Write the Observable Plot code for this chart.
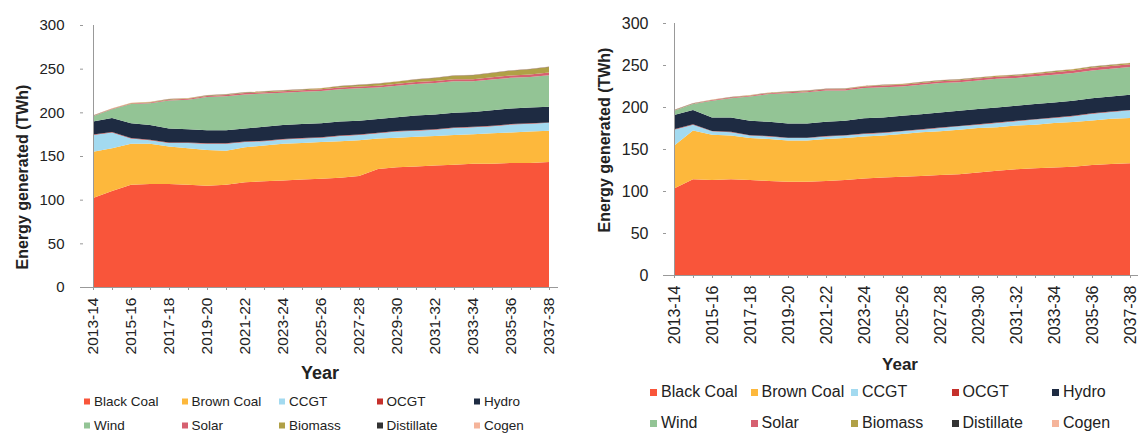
<!DOCTYPE html>
<html><head><meta charset="utf-8">
<script src="https://cdn.jsdelivr.net/npm/d3@7"></script>
<script src="https://cdn.jsdelivr.net/npm/@observablehq/plot@0.6"></script>
<style>
body{margin:0;background:#fff;font-family:"Liberation Sans",Arial,sans-serif;}
#wrap{position:relative;width:1143px;height:434px;overflow:hidden;background:#fff;}
.pl{position:absolute;top:0;}
.ytitle{position:absolute;font-weight:bold;color:#222;white-space:nowrap;transform:translate(-50%,-50%) rotate(-90deg);}
.xtitle{position:absolute;font-weight:bold;color:#222;white-space:nowrap;transform:translate(-50%,-50%);}
.leg{position:absolute;display:flex;align-items:center;white-space:nowrap;color:#222;transform:translateY(-50%);}
.sw{display:inline-block;margin-right:4px;}
</style></head>
<body>
<div id="wrap"></div>
<script>
const years = ["2013-14","2014-15","2015-16","2016-17","2017-18","2018-19","2019-20","2020-21","2021-22","2022-23","2023-24","2024-25","2025-26","2026-27","2027-28","2028-29","2029-30","2030-31","2031-32","2032-33","2033-34","2034-35","2035-36","2036-37","2037-38"];
const seriesNames = ["Black Coal","Brown Coal","CCGT","OCGT","Hydro","Wind","Solar","Biomass","Distillate","Cogen"];
const seriesColors = ["#f9553a","#fdb83c","#a3daf0","#c5302b","#1e2b42","#93c495","#d66070","#b0a046","#333333","#f5b49a"];
const yTicks = [0,50,100,150,200,250,300];
const yTitle = "Energy generated (TWh)";
const xTitle = "Year";

// Left chart (TWh)
const blackCoalL = [102,110,117,118,118,117,116,117,120,121,122,123,124,125,127,135,137,138,139,140,141,141,142,142,143];
const brownCoalL = [53,49,47,46,43,42,41,39,40,41,42,42,42,42,41,35,34,34,34,34,34,35,35,36,36];
const ccgtL = [19,18,6,4,4,6,7,8,6,5,5,5,5,6,6,6,7,7,7,8,8,8,9,9,9];
const ocgtL = [0.5,0.5,0.5,0.5,0.5,0.5,0.5,0.5,0.5,0.5,0.5,0.5,0.5,0.5,0.5,0.5,0.5,0.5,0.5,0.5,0.5,0.5,0.5,0.5,0.5];
const hydroL = [15,16,17,17,16,15,15,15,15,16,16,16,16,16,16,16,16,17,17,17,17,18,18,18,18];
const windL = [6,10,22,25,32,34,38,39,39,38,37,37,37,37,37,36,36,36,36,36,35,35,35,35,36];
const solarL = [0.3,0.5,0.7,0.8,1,1,1.2,1.3,1.5,1.5,1.6,1.7,1.8,1.9,2,2,2.1,2.2,2.3,2.4,2.5,2.6,2.7,2.8,3];
const biomassL = [0.3,0.3,0.4,0.4,0.5,0.5,0.6,0.6,0.7,0.8,0.9,1,1.2,1.5,1.8,2.2,2.6,3,3.5,4,4.5,5,5.5,6,6.5];
const distillateL = [0.2,0.2,0.2,0.2,0.2,0.2,0.2,0.2,0.2,0.2,0.2,0.2,0.2,0.2,0.2,0.2,0.2,0.2,0.2,0.2,0.2,0.2,0.2,0.2,0.2];
const cogenL = [0.3,0.3,0.3,0.3,0.3,0.3,0.3,0.3,0.3,0.3,0.3,0.3,0.3,0.3,0.3,0.3,0.3,0.3,0.3,0.3,0.3,0.3,0.3,0.3,0.3];

// Right chart (TWh)
const blackCoalR = [103,114,113,114,113,112,111,111,112,113,115,116,117,118,119,120,122,124,126,127,128,129,131,132,133];
const brownCoalR = [51,58,54,52,50,50,49,49,50,50,50,50,51,52,52,53,53,52,52,52,53,53,53,54,54];
const ccgtR = [19,7,4,4,3,3,3,3,3,3,3,3,3,3,4,4,4,5,5,6,6,7,8,8,9];
const ocgtR = [0.5,0.5,0.5,0.5,0.5,0.5,0.5,0.5,0.5,0.5,0.5,0.5,0.5,0.5,0.5,0.5,0.5,0.5,0.5,0.5,0.5,0.5,0.5,0.5,0.5];
const hydroR = [17,17,16,17,17,17,17,17,17,17,18,18,18,18,18,18,18,18,18,18,18,18,18,18,18];
const windR = [5,7,20,23,29,33,36,37,37,36,36,36,35,35,35,34,34,34,33,33,33,33,33,33,33];
const solarR = [0.3,0.5,0.7,0.8,1,1,1.2,1.3,1.5,1.6,1.8,2,2.1,2.2,2.3,2.4,2.5,2.6,2.7,2.8,2.9,3,3.1,3.2,3.3];
const biomassR = [0.3,0.3,0.3,0.4,0.4,0.4,0.5,0.5,0.5,0.6,0.6,0.7,0.7,0.8,0.8,0.9,0.9,1,1,1.1,1.2,1.3,1.3,1.4,1.5];
const distillateR = [0.2,0.2,0.2,0.2,0.2,0.2,0.2,0.2,0.2,0.2,0.2,0.2,0.2,0.2,0.2,0.2,0.2,0.2,0.2,0.2,0.2,0.2,0.2,0.2,0.2];
const cogenR = [0.3,0.3,0.3,0.3,0.3,0.3,0.3,0.3,0.3,0.3,0.3,0.3,0.3,0.3,0.3,0.3,0.3,0.3,0.3,0.3,0.3,0.3,0.3,0.3,0.3];

function tidy(arrs){
  const rows=[];
  seriesNames.forEach((s,k)=>arrs[k].forEach((v,i)=>rows.push({year:years[i],series:s,value:v})));
  return rows;
}
const rowsL = tidy([blackCoalL,brownCoalL,ccgtL,ocgtL,hydroL,windL,solarL,biomassL,distillateL,cogenL]);
const rowsR = tidy([blackCoalR,brownCoalR,ccgtR,ocgtR,hydroR,windR,solarR,biomassR,distillateR,cogenR]);
const xLabelYears = years.filter((d,i)=>i%2===0);

function chart(rows, c){
  return Plot.plot({
    width:c.w, height:c.h,
    marginLeft:c.ml, marginRight:c.mr, marginTop:c.mt, marginBottom:c.mb,
    style:{fontFamily:"Liberation Sans, Arial, sans-serif", fontSize:c.fs+"px", color:"#222", background:"transparent", overflow:"visible"},
    x:{type:"point", domain:years, padding:0},
    y:{domain:[0,300]},
    color:{domain:seriesNames, range:seriesColors},
    marks:[
      Plot.areaY(rows,{x:"year", y:"value", z:"series", fill:"series", order:seriesNames}),
      Plot.ruleY([0],{stroke:"#999"}),
      Plot.ruleX([years[0]],{stroke:"#999"}),
      Plot.axisY({ticks:yTicks, tickSize:3, tickPadding:c.ytp, stroke:"#999", fill:"#222", fontSize:c.fs, label:null}),
      Plot.axisX({ticks:years, tickSize:3, tickFormat:()=>"", stroke:"#999", label:null}),
      Plot.axisX({ticks:xLabelYears, tickSize:0, tickRotate:-90, tickPadding:c.xtp, fill:"#222", fontSize:c.xfs, label:null})
    ]
  });
}

const wrap = document.getElementById("wrap");
function place(el, left){ el.classList.add("pl"); el.style.left = left+"px"; wrap.appendChild(el); }
place(chart(rowsL,{w:570,h:360,ml:83,mr:12,mt:25,mb:73,fs:15,xfs:15.5,ytp:16,xtp:10}), 0);
place(chart(rowsR,{w:563,h:360,ml:86,mr:5,mt:23,mb:85,fs:16,xfs:16,ytp:15,xtp:10}), 580);

function addText(cls, txt, x, y, fs){
  const d=document.createElement("div"); d.className=cls; d.textContent=txt;
  d.style.left=x+"px"; d.style.top=y+"px"; d.style.fontSize=fs+"px"; wrap.appendChild(d);
}
addText("ytitle", yTitle, 23, 177, 16);
addText("ytitle", yTitle, 605, 140, 16);
addText("xtitle", xTitle, 320, 373, 18);
addText("xtitle", xTitle, 900, 365, 17);

function legend(x0, step, rowsY, fs, sw){
  seriesNames.forEach((s,k)=>{
    const col=k%5, row=Math.floor(k/5);
    const d=document.createElement("div"); d.className="leg";
    d.style.left=(x0+col*step)+"px"; d.style.top=rowsY[row]+"px"; d.style.fontSize=fs+"px";
    const b=document.createElement("span"); b.className="sw";
    b.style.width=sw+"px"; b.style.height=sw+"px"; b.style.background=seriesColors[k];
    const t=document.createElement("span"); t.textContent=s;
    d.appendChild(b); d.appendChild(t); wrap.appendChild(d);
  });
}
legend(84, 97.5, [401,425], 13.5, 6);
legend(650, 100.5, [392,423], 16, 7);
</script>
</body></html>
